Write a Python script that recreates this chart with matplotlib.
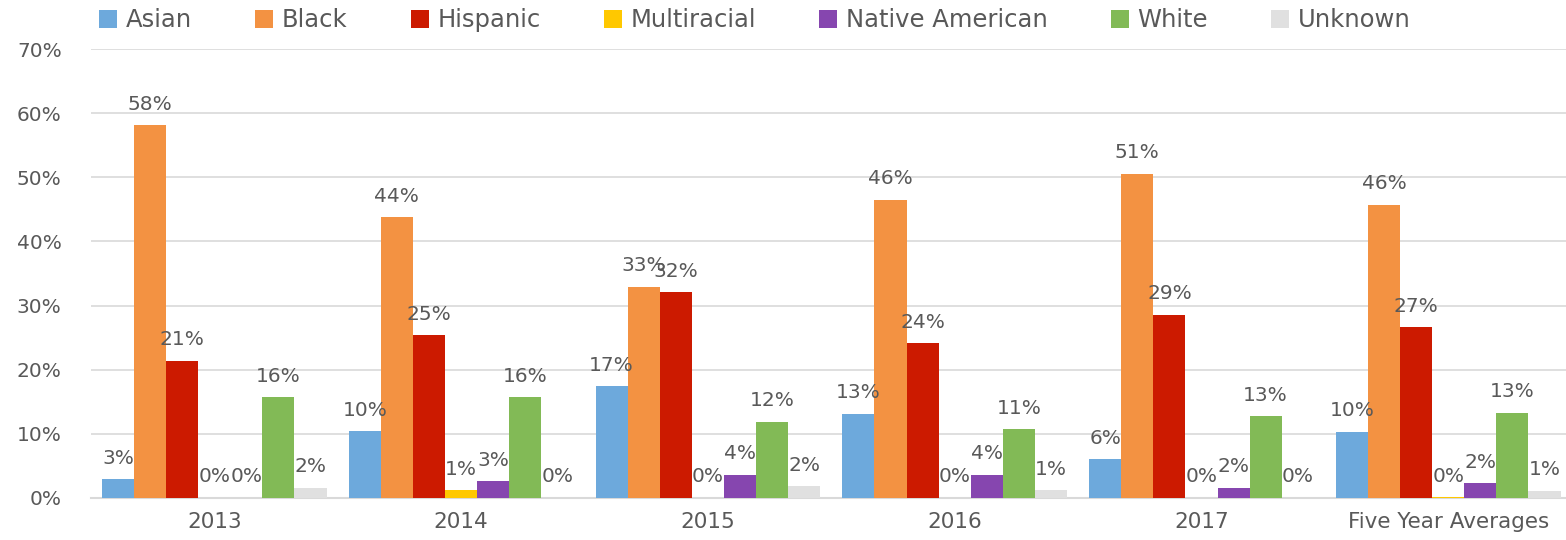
import numpy as np
import matplotlib.pyplot as plt
from matplotlib.ticker import FuncFormatter

groups = ['2013', '2014', '2015', '2016', '2017', 'Five Year Averages']
races = ['Asian', 'Black', 'Hispanic', 'Multiracial', 'Native American', 'White', 'Unknown']
colors = ['#6DA9DC', '#F39242', '#CC1A00', '#FFC800', '#8646AF', '#82BA56', '#E0E0E0']

# percent values per race, one entry per group
asian = [2.9, 10.4, 17.4, 13.1, 6.0, 10.3]
black = [58.1, 43.8, 32.9, 46.5, 50.6, 45.7]
hispanic = [21.4, 25.4, 32.1, 24.1, 28.6, 26.6]
multiracial = [0.0, 1.2, 0.0, 0.0, 0.0, 0.1]
native = [0.0, 2.6, 3.6, 3.6, 1.6, 2.3]
white = [15.7, 15.7, 11.9, 10.7, 12.7, 13.3]
unknown = [1.6, 0.0, 1.8, 1.2, 0.0, 1.1]
series = [asian, black, hispanic, multiracial, native, white, unknown]

grey = '#595959'
fig = plt.figure(figsize=(15.66, 5.4), dpi=100)
ax = fig.add_axes([0.058, 0.078, 0.942, 0.831])

x = np.arange(len(groups))
w = 0.13
for i, (vals, c, name) in enumerate(zip(series, colors, races)):
    pos = x + (i - 3) * w
    bars = ax.bar(pos, vals, w, color=c, label=name, zorder=3)
    for b, v in zip(bars, vals):
        ax.text(b.get_x() + b.get_width() / 2, v + 1.8, f'{round(v)}%',
                ha='center', va='bottom', fontsize=14.5, color=grey, zorder=4)

ax.set_ylim(0, 70)
ax.set_xlim(-0.5, 5.477)
ax.set_yticks(np.arange(0, 71, 10))
ax.yaxis.set_major_formatter(FuncFormatter(lambda v, p: f'{v:.0f}%'))
ax.set_xticks(x)
ax.set_xticklabels(groups)
ax.tick_params(axis='x', length=0, labelsize=15.5, labelcolor=grey, pad=10)
ax.tick_params(axis='y', length=0, labelsize=14.5, labelcolor=grey, pad=21)
ax.grid(axis='y', color='#D9D9D9', linewidth=1.2, zorder=0)
for s in ['top', 'right', 'left']:
    ax.spines[s].set_visible(False)
ax.spines['bottom'].set_color('#D9D9D9')
ax.spines['bottom'].set_linewidth(1.5)

fig.legend(loc='upper center', bbox_to_anchor=(0.482, 1.025), ncol=7, frameon=False,
           fontsize=17.5, handlelength=0.75, handleheight=0.75, handletextpad=0.35,
           columnspacing=2.6, labelcolor=grey)

fig.savefig('out.png', dpi=100)
